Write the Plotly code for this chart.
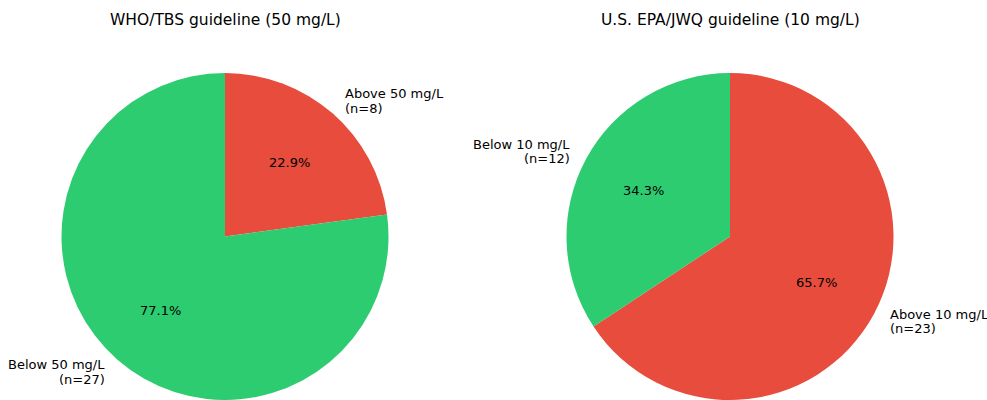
import math
import plotly.graph_objects as go

titles = ["WHO/TBS guideline (50 mg/L)", "U.S. EPA/JWQ guideline (10 mg/L)"]
labels_left = ["Above 50 mg/L", "Below 50 mg/L"]
labels_right = ["Above 10 mg/L", "Below 10 mg/L"]
counts_left = [8, 27]
counts_right = [23, 12]
colors = ["#e74c3c", "#2ecc71"]

W, H = 987, 400
MT, MB, ML, MR = 73, 0, 0, 0
PW, PH = W - ML - MR, H - MT - MB
FONT = "DejaVu Sans"
LINE_H = 14.5

pies = [
    dict(cx=225, labels=labels_left, counts=counts_left, title=titles[0]),
    dict(cx=730, labels=labels_right, counts=counts_right, title=titles[1]),
]
R = PH / 2.0
CY = MT + PH / 2.0

fig = go.Figure()
annotations = []

def to_paper(px, py):
    return (px - ML) / PW, (H - MB - py) / PH

for p in pies:
    cx = p["cx"]
    x0 = (cx - R - ML) / PW
    x1 = (cx + R - ML) / PW
    fig.add_trace(go.Pie(
        labels=p["labels"],
        values=p["counts"],
        marker=dict(colors=colors, line=dict(width=0)),
        sort=False,
        direction="clockwise",
        rotation=0,
        textinfo="none",
        hoverinfo="label+value+percent",
        domain=dict(x=[x0, x1], y=[0, 1]),
        showlegend=False,
    ))
    total = sum(p["counts"])
    start = 90.0
    for lab, c in zip(p["labels"], p["counts"]):
        span = c / total * 360.0
        mid = math.radians(start - span / 2.0)
        start -= span
        px = cx + 0.6 * R * math.cos(mid)
        py = CY - 0.6 * R * math.sin(mid)
        xp, yp = to_paper(px, py)
        annotations.append(dict(
            x=xp, y=yp, xref="paper", yref="paper",
            text=f"{c / total * 100:.1f}%", showarrow=False,
            font=dict(family=FONT, size=13, color="#000000"),
            xanchor="center", yanchor="middle",
        ))
        lx = cx + 1.1 * R * math.cos(mid)
        ly = CY - 1.1 * R * math.sin(mid)
        right = math.cos(mid) >= 0
        for k, line in enumerate([lab, f"(n={c})"]):
            xp, yp = to_paper(lx, ly + (k - 0.5) * LINE_H)
            annotations.append(dict(
                x=xp, y=yp, xref="paper", yref="paper",
                text=line, showarrow=False,
                font=dict(family=FONT, size=13, color="#000000"),
                xanchor="left" if right else "right",
                yanchor="middle",
            ))
    tx, ty = to_paper(cx, 20)
    annotations.append(dict(
        x=tx, y=ty, xref="paper", yref="paper",
        text=p["title"], showarrow=False,
        font=dict(family=FONT, size=15.5, color="#000000"),
        xanchor="center", yanchor="middle",
    ))

fig.update_layout(
    width=W, height=H,
    margin=dict(t=MT, b=MB, l=ML, r=MR),
    paper_bgcolor="white", plot_bgcolor="white",
    annotations=annotations,
    font=dict(family=FONT),
)

fig.write_html(
    "out.html",
    config={"displayModeBar": False},
    post_script="document.body.style.margin='0';document.body.style.overflow='hidden';",
)
